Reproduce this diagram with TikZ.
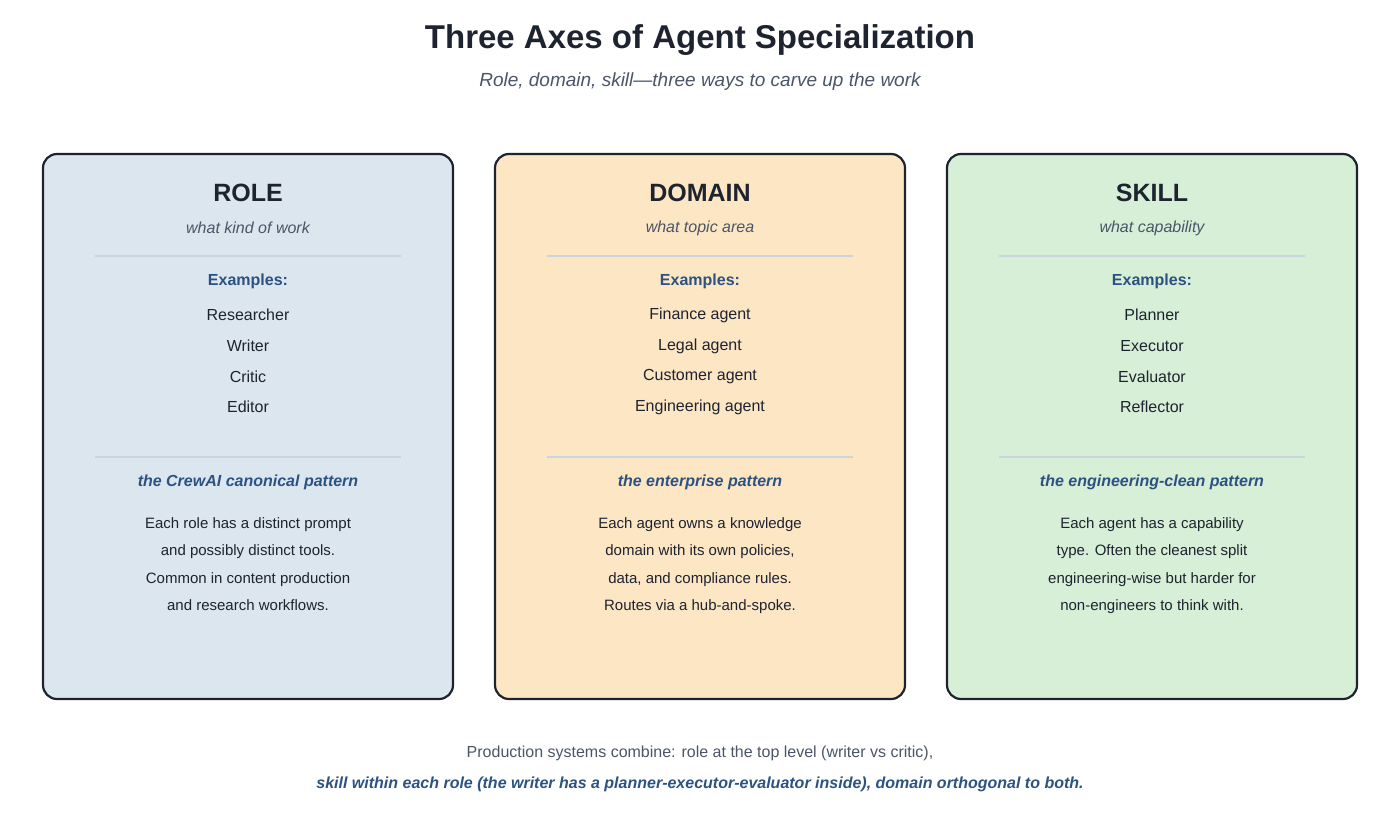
\documentclass[tikz,border=0pt]{standalone}
\usepackage{fontspec}
\setmainfont{Liberation Sans}
\begin{document}
\begin{tikzpicture}[x=1pt,y=-1pt,
  box/.style={draw=dk,line width=2.2pt,rounded corners=14pt},
  sep/.style={draw=sepc,line width=1.6pt},
  hd/.style={font=\fontsize{25}{30}\selectfont\bfseries,text=dk},
  sub/.style={font=\fontsize{16}{19}\selectfont\itshape,text=gr},
  ex/.style={font=\fontsize{16}{19}\selectfont\bfseries,text=bl},
  it/.style={font=\fontsize{16}{19}\selectfont,text=dk},
  pat/.style={font=\fontsize{16}{19}\selectfont\bfseries\itshape,text=bl},
  desc/.style={font=\fontsize{15}{27.3}\selectfont,text=dk,align=center,anchor=north}]
\definecolor{dk}{HTML}{1E2330}
\definecolor{gr}{HTML}{4A5568}
\definecolor{bl}{HTML}{2C5282}
\definecolor{sepc}{HTML}{CBD5E0}
\definecolor{c1}{HTML}{DCE6EF}
\definecolor{c2}{HTML}{FDE6C4}
\definecolor{c3}{HTML}{D6EFD6}
\useasboundingbox (0,0) rectangle (1400,819);
\node[font=\fontsize{33}{38}\selectfont\bfseries,text=dk] (title) at (700,40) {Three Axes of Agent Specialization};
\node[font=\fontsize{19}{22}\selectfont\itshape,text=gr] (subtitle) at (700,82) {Role, domain, skill—three ways to carve up the work};
\foreach \n/\x/\c/\h/\s/\a/\b/\cc/\d/\p/\la/\lb/\lc/\ld in {
 r/248/c1/ROLE/what kind of work/Researcher/Writer/Critic/Editor/the CrewAI canonical pattern/Each role has a distinct prompt/and possibly distinct tools./Common in content production/and research workflows.,
 d/700/c2/DOMAIN/what topic area/Finance agent/Legal agent/Customer agent/Engineering agent/the enterprise pattern/Each agent owns a knowledge/{domain with its own policies,}/{data, and compliance rules.}/Routes via a hub-and-spoke.,
 s/1152/c3/SKILL/what capability/Planner/Executor/Evaluator/Reflector/the engineering-clean pattern/Each agent has a capability/type. Often the cleanest split/engineering-wise but harder for/non-engineers to think with.}{
  \draw[box,fill=\c] (\x-205,154) rectangle (\x+205,699);
  \node[hd] (h\n) at (\x,193) {\h};
  \node[sub] (s\n) at (\x,228) {\s};
  \draw[sep] (\x-153,256) -- (\x+153,256);
  \node[ex] (e\n) at (\x,281) {Examples:};
  \node[it] (i1\n) at (\x,315) {\a};
  \node[it] (i2\n) at (\x,346) {\b};
  \node[it] (i3\n) at (\x,377) {\cc};
  \node[it] (i4\n) at (\x,407) {\d};
  \draw[sep] (\x-153,457) -- (\x+153,457);
  \node[pat] (p\n) at (\x,482) {\p};
  \node[desc] (d\n) at (\x,514) {\la\\\lb\\\lc\\\ld};
}
\node[font=\fontsize{16}{19}\selectfont,text=gr] (f1) at (700,753) {Production systems combine: role at the top level (writer vs critic),};
\node[font=\fontsize{16}{19}\selectfont\bfseries\itshape,text=bl] (f2) at (700,784) {skill within each role (the writer has a planner-executor-evaluator inside), domain orthogonal to both.};
\end{tikzpicture}
\end{document}
